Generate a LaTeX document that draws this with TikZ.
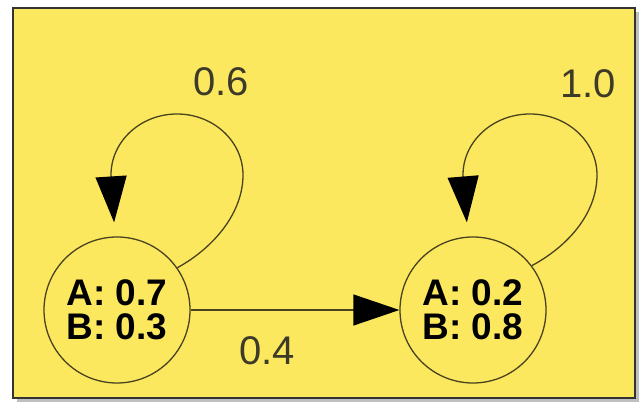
\documentclass[tikz,border=0pt]{standalone}
\usepackage{fontspec}
\setmainfont{Liberation Sans}
\usetikzlibrary{arrows.meta}
\definecolor{boxyellow}{RGB}{252,232,95}
\definecolor{edgeolive}{RGB}{72,66,30}
\definecolor{lblgray}{RGB}{62,58,40}
\tikzset{
  state/.style={circle,draw=edgeolive,line width=1.3pt,minimum size=146pt,inner sep=0pt,
    align=center,font=\fontsize{37}{34}\selectfont\bfseries,text=black},
  edge/.style={draw=edgeolive,line width=1.3pt,-{Triangle[length=46pt,width=31pt,color=black]}},
  prob/.style={font=\fontsize{40}{40}\selectfont,text=lblgray},
  boxframe/.style={draw=black!80,line width=2pt,fill=boxyellow}
}

\begin{document}
\begin{tikzpicture}[x=1pt,y=1pt]
\useasboundingbox (0,0) rectangle (643,407);

\fill[black!25] (17,5) rectangle (639,395);
\draw[boxframe] (13,9) rectangle (635,399);

\node[state] (S1) at (117,97) {A: 0.7\\B: 0.3};
\node[state] (S2) at (473,97) {A: 0.2\\B: 0.8};

\draw[edge] (S1) -- (S2);
\draw[edge,shorten >=14pt] (S1.35) .. controls (215,160) and (243,195) .. (243,232)
  arc[start angle=0,end angle=180,x radius=66,y radius=61] -- ([xshift=-2pt]S1.north);
\draw[edge,shorten >=14pt] (S2.37) .. controls (570,162) and (597,195) .. (597,232)
  arc[start angle=0,end angle=180,x radius=67,y radius=61] -- ([xshift=-5pt]S2.north);

\node[prob] (p11) at (221,325) {0.6};
\node[prob] (p22) at (588,323) {1.0};
\node[prob] (p12) at (267,56) {0.4};

\end{tikzpicture}
\end{document}
